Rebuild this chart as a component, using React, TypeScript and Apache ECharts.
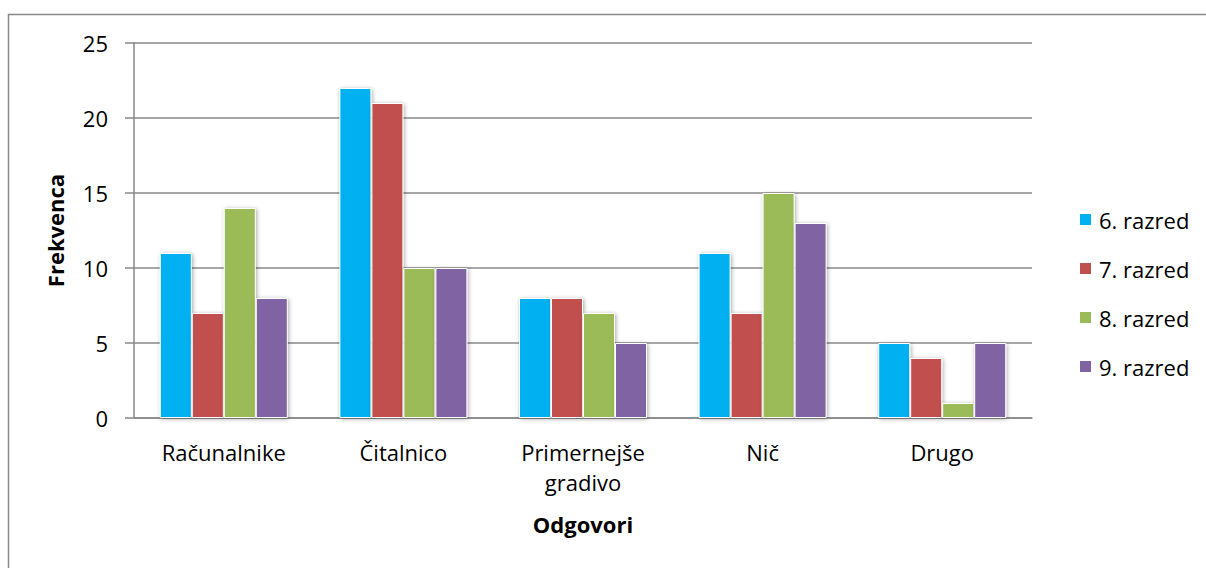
import React, { useEffect, useRef } from "react";
import * as echarts from "echarts";

const categories = ["Računalnike", "Čitalnico", "Primernejše\ngradivo", "Nič", "Drugo"];
const seriesNames = ["6. razred", "7. razred", "8. razred", "9. razred"];
const razred6 = [11, 22, 8, 11, 5];
const razred7 = [7, 21, 8, 7, 4];
const razred8 = [14, 10, 7, 15, 1];
const razred9 = [8, 10, 5, 13, 5];
const colors = ["#00B0F0", "#C0504D", "#9BBB59", "#8064A2"];
const yTicks = { min: 0, max: 25, interval: 5 };

const FONT = "'Open Sans', sans-serif";

export default function App() {
  const ref = useRef<HTMLDivElement>(null);
  useEffect(() => {
    if (!ref.current) return;
    const chart = echarts.init(ref.current, undefined, { renderer: "svg" });
    const data = [razred6, razred7, razred8, razred9];
    chart.setOption({
      animation: false,
      textStyle: { fontFamily: FONT },
      graphic: [
        {
          type: "rect",
          shape: { x: 8.5, y: 14.5, width: 1300, height: 700 },
          style: { fill: "none", stroke: "#898989", lineWidth: 1.5 },
          silent: true,
          z: -10,
        },
      ],
      grid: { left: 134, right: 174, top: 43, bottom: 150, containLabel: false },
      legend: {
        orient: "vertical",
        left: 1073,
        top: 202,
        itemWidth: 13,
        itemHeight: 13,
        itemGap: 24,
        icon: "rect",
        data: seriesNames,
        textStyle: { fontFamily: FONT, fontSize: 22, color: "#000", lineHeight: 25, padding: [0, 0, 0, 2] },
      },
      xAxis: {
        type: "category",
        data: categories,
        name: "Odgovori",
        nameLocation: "middle",
        nameGap: 95,
        nameTextStyle: { fontFamily: FONT, fontSize: 22, fontWeight: "bold", color: "#000" },
        axisLine: { lineStyle: { color: "#898989", width: 1.5 } },
        axisTick: { show: false },
        axisLabel: { fontFamily: FONT, fontSize: 22, color: "#000", margin: 19, lineHeight: 30, interval: 0 },
      },
      yAxis: {
        type: "value",
        min: yTicks.min,
        max: yTicks.max,
        interval: yTicks.interval,
        name: "Frekvenca",
        nameLocation: "middle",
        nameGap: 68,
        nameRotate: 90,
        nameTextStyle: { fontFamily: FONT, fontSize: 22, fontWeight: "bold", color: "#000" },
        axisLine: { show: true, lineStyle: { color: "#898989", width: 1.5 } },
        axisTick: { show: true, length: 9, lineStyle: { color: "#898989", width: 1.5 } },
        axisLabel: { fontFamily: FONT, fontSize: 22, color: "#000", margin: 26 },
        splitLine: { lineStyle: { color: "#898989", width: 1.5 } },
      },
      series: seriesNames.map((name, i) => ({
        name,
        type: "bar",
        data: data[i],
        barWidth: 32,
        barGap: "0%",
        itemStyle: {
          color: colors[i],
          borderColor: "#fff",
          borderWidth: 1,
          shadowColor: "rgba(0,0,0,0.35)",
          shadowBlur: 4,
          shadowOffsetX: 1,
          shadowOffsetY: 1,
        },
      })),
    });
    return () => chart.dispose();
  }, []);
  return <div ref={ref} style={{ width: 1206, height: 568, position: "absolute", left: 0, top: 0 }} />;
}
